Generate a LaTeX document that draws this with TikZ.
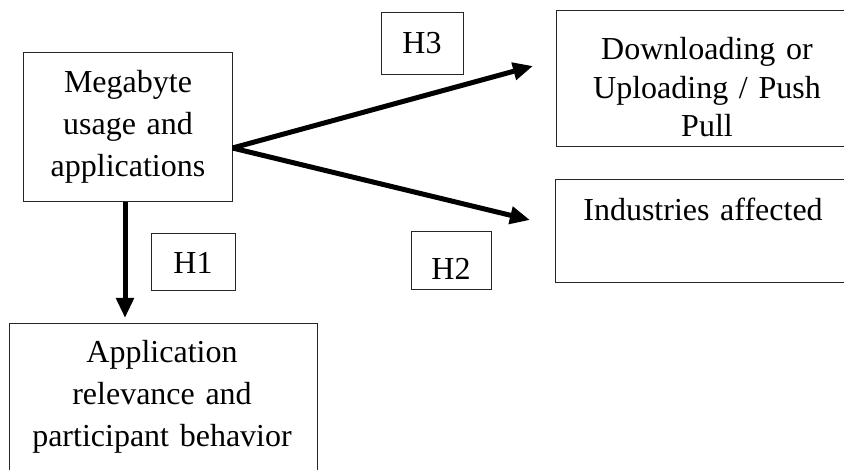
\documentclass[tikz,border=0pt]{standalone}
\usepackage{fontspec}
\setmainfont{Liberation Serif}
\usetikzlibrary{arrows.meta}
\begin{document}
\begin{tikzpicture}[x=1pt,y=-1pt,
  box/.style={draw=black!85, line width=1pt, rectangle, inner sep=0pt},
  txt/.style={anchor=base, align=center, text width=320pt, inner sep=0pt, font=\fontsize{32}{42}\selectfont},
  txttight/.style={txt, font=\fontsize{32}{38.5}\selectfont},
  link/.style={line width=5pt, -{Triangle[length=20pt,width=17pt]}}]
\useasboundingbox (0,0) rectangle (844,470);
\clip (0,0) rectangle (844,470);
% boxes
\node[box, minimum width=209pt, minimum height=149pt] (mb) at (127.5,127.5) {};
\node[box, minimum width=302pt, minimum height=136pt] (dl) at (707,79) {};
\node[box, minimum width=296pt, minimum height=103pt] (ind) at (703,231.5) {};
\node[box, minimum width=308pt, minimum height=147pt] (app) at (163,397.5) {};
\node[box, minimum width=82pt, minimum height=62pt] (h3) at (422,44) {};
\node[box, minimum width=84pt, minimum height=57pt] (h1) at (193,261.7) {};
\node[box, minimum width=80pt, minimum height=58pt] (h2) at (451,261) {};
% texts
\node[txt] (mbt) at (128,93) {Megabyte\\usage and\\applications};
\node[txttight] (dlt) at (707,60) {Downloading or\\Uploading / Push\\Pull};
\node[txt] (indt) at (703,221) {Industries affected};
\node[txt] (appt) at (162,363) {Application\\relevance and\\participant behavior};
\node[txt] (h3t) at (422,54) {H3};
\node[txt] (h1t) at (193,274) {H1};
\node[txt] (h2t) at (451,280) {H2};
% connectors
\coordinate (s) at ([yshift=-20.5pt]mb.east);
\coordinate (s1) at ([xshift=-2.5pt]mb.south);
\coordinate (t3) at (533,66);
\coordinate (t2) at (530,220);
\coordinate (t1) at (125,318);
\draw[link] (s) -- (t3);
\draw[link] (s) -- (t2);
\draw[link] (s1) -- (t1);
\end{tikzpicture}
\end{document}
